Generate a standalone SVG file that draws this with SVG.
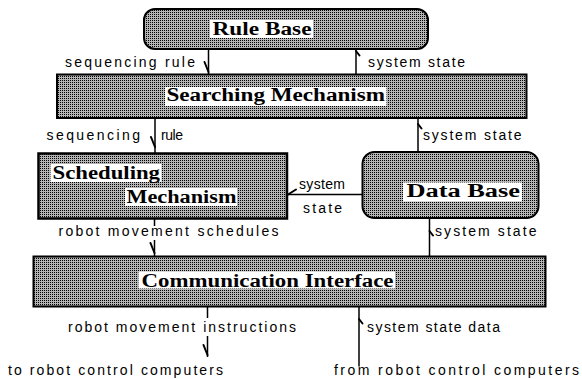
<svg xmlns="http://www.w3.org/2000/svg" width="582" height="379" viewBox="0 0 582 379">
<style>
.box{fill:url(#dots);stroke:#000;stroke-width:2}
.tbg{fill:#fff}
.title{font-family:"Liberation Serif",serif;font-weight:bold;font-size:18px;fill:#000}
.lbl{font-family:"Liberation Sans",Arial,sans-serif;font-size:14px;fill:#000}
.ln{stroke:#000;stroke-width:1.5;fill:none}
.barb{stroke:#000;stroke-width:2;fill:none;stroke-linecap:round}
</style>
<defs>
<pattern id="dots" width="2" height="2" patternUnits="userSpaceOnUse">
<rect width="2" height="2" fill="#b4b4b4"/>
<rect width="1" height="1" fill="#000"/>
</pattern>
<path id="bDown" d="M-4,-10 L0,0" class="barb"/>
<path id="bUp" d="M0,0 L3.5,4.5" class="barb"/>
<path id="bLeft" d="M0,0 L8,-5" class="barb"/>
</defs>

<g id="rule-base">
<rect class="box" x="144" y="9" width="284" height="40" rx="11"/>
<rect class="tbg" x="210" y="20" width="103" height="18"/>
<text class="title" x="212.5" y="35" textLength="99" lengthAdjust="spacingAndGlyphs">Rule Base</text>
</g>

<g id="searching-mechanism">
<rect class="box" x="57" y="74.5" width="469.5" height="43.5"/>
<rect class="tbg" x="165" y="87" width="221.5" height="19"/>
<text class="title" x="166.5" y="101" textLength="218.5" lengthAdjust="spacingAndGlyphs">Searching Mechanism</text>
</g>

<g id="scheduling-mechanism">
<rect class="box" x="38.5" y="153.5" width="248.5" height="65" style="stroke-width:2.5"/>
<rect class="tbg" x="50.5" y="164" width="111" height="18"/>
<text class="title" x="52.5" y="178.5" textLength="107.5" lengthAdjust="spacingAndGlyphs">Scheduling</text>
<rect class="tbg" x="125" y="188" width="112" height="18"/>
<text class="title" x="126.5" y="203" textLength="110" lengthAdjust="spacingAndGlyphs">Mechanism</text>
</g>

<g id="data-base">
<rect class="box" x="362.5" y="152" width="176" height="66" rx="12"/>
<rect class="tbg" x="403" y="182.5" width="119" height="19"/>
<text class="title" x="406.5" y="197" textLength="113.5" lengthAdjust="spacingAndGlyphs">Data Base</text>
</g>

<g id="communication-interface">
<rect class="box" x="33.5" y="256.5" width="512" height="50"/>
<rect class="tbg" x="138.5" y="271.5" width="256.5" height="17"/>
<text class="title" x="141.5" y="287" textLength="252" lengthAdjust="spacingAndGlyphs">Communication Interface</text>
</g>

<g id="connectors">
<line class="ln" x1="208.5" y1="49" x2="208.5" y2="74"/>
<use href="#bDown" x="208.5" y="72"/>
<line class="ln" x1="356" y1="74" x2="356" y2="49"/>
<use href="#bUp" x="356" y="51"/>
<line class="ln" x1="155" y1="118" x2="155" y2="153"/>
<use href="#bDown" x="155" y="147"/>
<line class="ln" x1="418" y1="152" x2="418" y2="118"/>
<use href="#bUp" x="418" y="124"/>
<line class="ln" x1="362" y1="194.5" x2="287.5" y2="194.5"/>
<use href="#bLeft" x="288" y="194.5"/>
<line class="ln" x1="154.5" y1="219" x2="154.5" y2="226"/>
<line class="ln" x1="154.5" y1="240" x2="154.5" y2="256"/>
<use href="#bDown" x="154.5" y="253"/>
<line class="ln" x1="429.5" y1="256" x2="429.5" y2="218"/>
<use href="#bUp" x="429.5" y="231"/>
<line class="ln" x1="207.5" y1="307" x2="207.5" y2="318"/>
<line class="ln" x1="207.5" y1="336" x2="207.5" y2="357"/>
<use href="#bDown" x="207.5" y="355"/>
<line class="ln" x1="359" y1="366.5" x2="359" y2="307"/>
<use href="#bUp" x="359" y="319"/>
</g>

<g id="labels">
<text class="lbl" x="65" y="67" textLength="130">sequencing rule</text>
<text class="lbl" x="368" y="67" textLength="97">system state</text>
<text class="lbl" x="46.5" y="140" textLength="93.5">sequencing</text>
<text class="lbl" x="161" y="140" textLength="22">rule</text>
<text class="lbl" x="423" y="140" textLength="98.5">system state</text>
<text class="lbl" x="299" y="189" textLength="46">system</text>
<text class="lbl" x="303" y="213" textLength="39">state</text>
<text class="lbl" x="58.5" y="236" textLength="220">robot movement schedules</text>
<text class="lbl" x="435" y="236" textLength="101.5">system state</text>
<text class="lbl" x="68" y="332" textLength="228">robot movement instructions</text>
<text class="lbl" x="367" y="332" textLength="133">system state data</text>
<text class="lbl" x="8" y="375" textLength="215">to robot control computers</text>
<text class="lbl" x="334" y="375" textLength="245">from robot control computers</text>
</g>
</svg>
